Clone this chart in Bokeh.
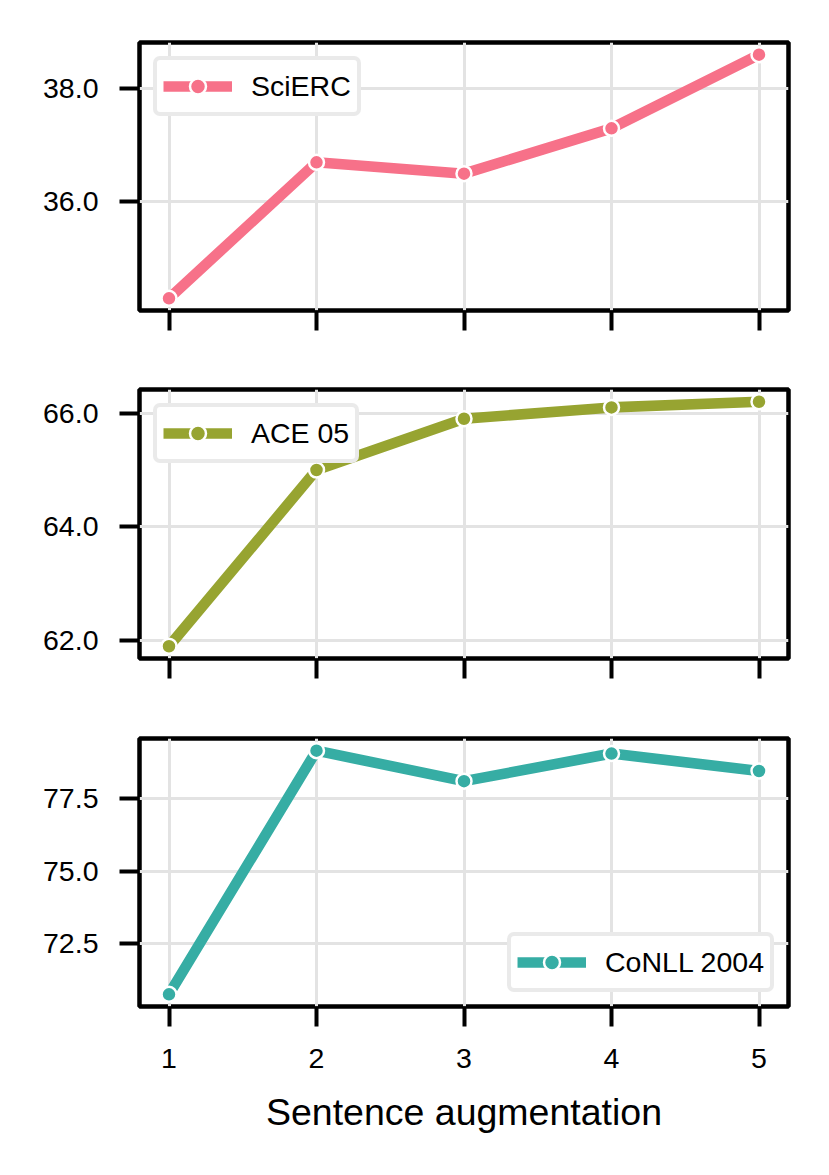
from bokeh.plotting import figure
from bokeh.layouts import column
from bokeh.models import Range1d, FixedTicker, PrintfTickFormatter, Legend
from bokeh.embed import file_html
from bokeh.resources import INLINE

x_values = [1, 2, 3, 4, 5]
x_ticks = [1, 2, 3, 4, 5]
series_names = ["SciERC", "ACE 05", "CoNLL 2004"]
scierc = [34.3, 36.7, 36.5, 37.3, 38.6]
ace05 = [61.9, 65.0, 65.9, 66.1, 66.2]
conll2004 = [70.75, 79.15, 78.1, 79.05, 78.45]
y_ticks_scierc = [36.0, 38.0]
y_ticks_ace05 = [62.0, 64.0, 66.0]
y_ticks_conll = [72.5, 75.0, 77.5]
colors = ["#f77189", "#97a431", "#36ada4"]
x_label = "Sentence augmentation"

FONT = "Liberation Sans"


def make_panel(ys, name, color, yticks, legend_loc, border_top, frame_h, border_bottom, show_xlabels):
    height = border_top + frame_h + border_bottom
    p = figure(width=813, height=height, output_backend="svg", toolbar_location=None,
               min_border_left=139, min_border_right=25,
               min_border_top=border_top, min_border_bottom=border_bottom)
    xr0, xr1 = min(x_values), max(x_values)
    xm = 0.05 * (xr1 - xr0)
    p.x_range = Range1d(xr0 - xm, xr1 + xm)
    y0, y1 = min(ys), max(ys)
    ym = 0.05 * (y1 - y0)
    p.y_range = Range1d(y0 - ym, y1 + ym)

    p.background_fill_color = "white"
    p.border_fill_color = "white"
    p.outline_line_color = "black"
    p.outline_line_width = 4.5

    for g in (p.xgrid, p.ygrid):
        g.grid_line_color = "#e3e3e3"
        g.grid_line_width = 3
    p.xgrid.ticker = FixedTicker(ticks=x_ticks)
    p.ygrid.ticker = FixedTicker(ticks=yticks)

    p.xaxis.ticker = FixedTicker(ticks=x_ticks)
    p.yaxis.ticker = FixedTicker(ticks=yticks)
    p.yaxis.formatter = PrintfTickFormatter(format="%.1f")
    for ax in (p.xaxis, p.yaxis):
        ax.axis_line_color = None
        ax.major_tick_in = 0
        ax.major_tick_out = 20
        ax.major_tick_line_width = 4
        ax.major_tick_line_color = "black"
        ax.minor_tick_line_color = None
        ax.major_label_text_font = FONT
        ax.major_label_text_font_size = "28.5px"
        ax.major_label_text_color = "black"
    p.yaxis.major_label_standoff = 21
    if show_xlabels:
        p.xaxis.major_label_standoff = 22
        p.xaxis.axis_label = x_label
        p.xaxis.axis_label_text_font = FONT
        p.xaxis.axis_label_text_font_size = "37.5px"
        p.xaxis.axis_label_text_font_style = "normal"
        p.xaxis.axis_label_text_color = "black"
        p.xaxis.axis_label_standoff = 20
    else:
        p.xaxis.major_label_overrides = {t: "" for t in x_ticks}
        p.xaxis.major_label_text_font_size = "1px"
        p.xaxis.major_label_standoff = 0

    r1 = p.line(x_values, ys, line_color=color, line_width=10.6)
    r2 = p.scatter(x_values, ys, size=15, fill_color=color, line_color="white", line_width=2.5)

    legend = Legend(items=[(name, [r1, r2])], location=legend_loc)
    legend.label_text_font = FONT
    legend.label_text_font_size = "28.5px"
    legend.label_text_color = "black"
    legend.glyph_width = 69
    legend.glyph_height = 40
    legend.label_standoff = 19
    legend.padding = 6
    legend.margin = 14
    legend.border_line_color = "#d5d5d5"
    legend.border_line_width = 4
    legend.background_fill_color = "white"
    legend.background_fill_alpha = 1.0
    if "border_radius" in Legend.properties():
        legend.border_radius = 7
    p.add_layout(legend, "center")
    return p


p1 = make_panel(scierc, series_names[0], colors[0], y_ticks_scierc, "top_left", 42, 268, 40, False)
p2 = make_panel(ace05, series_names[1], colors[1], y_ticks_ace05, "top_left", 39, 269, 42, False)
p3 = make_panel(conll2004, series_names[2], colors[2], y_ticks_conll, "bottom_right", 38, 268, 150, True)

layout = column(p1, p2, p3)
open("out.html", "w").write(file_html(layout, INLINE))
